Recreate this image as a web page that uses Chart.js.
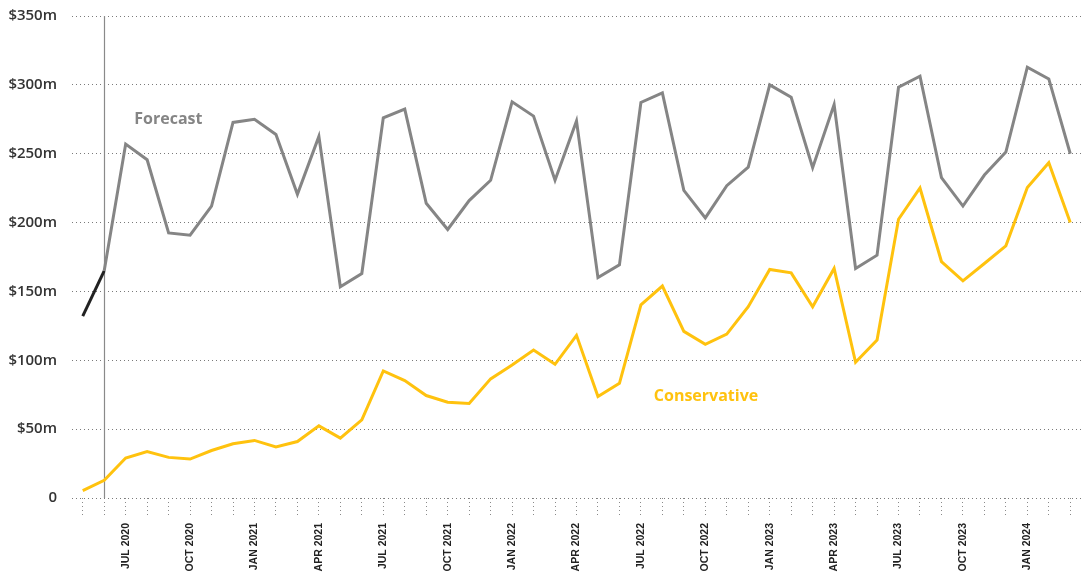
<!DOCTYPE html>
<html>
<head>
<meta charset="utf-8">
<script src="https://cdn.jsdelivr.net/npm/chart.js@4.4.1/dist/chart.umd.min.js"></script>
<style>
  html, body { margin: 0; padding: 0; background: #fff; }
  #wrap { width: 1081px; height: 575px; position: relative; }
</style>
</head>
<body>
<div id="wrap"><canvas id="myChart"></canvas></div>
<script>
var months = [
  'MAY 2020', 'JUN 2020', 'JUL 2020', 'AUG 2020', 'SEP 2020', 'OCT 2020', 'NOV 2020', 'DEC 2020',
  'JAN 2021', 'FEB 2021', 'MAR 2021', 'APR 2021', 'MAY 2021', 'JUN 2021', 'JUL 2021', 'AUG 2021',
  'SEP 2021', 'OCT 2021', 'NOV 2021', 'DEC 2021', 'JAN 2022', 'FEB 2022', 'MAR 2022', 'APR 2022',
  'MAY 2022', 'JUN 2022', 'JUL 2022', 'AUG 2022', 'SEP 2022', 'OCT 2022', 'NOV 2022', 'DEC 2022',
  'JAN 2023', 'FEB 2023', 'MAR 2023', 'APR 2023', 'MAY 2023', 'JUN 2023', 'JUL 2023', 'AUG 2023',
  'SEP 2023', 'OCT 2023', 'NOV 2023', 'DEC 2023', 'JAN 2024', 'FEB 2024', 'MAR 2024'
];
// months that get a printed label
var shownMonths = ['JAN', 'APR', 'JUL', 'OCT'];

var forecast = [
  132, 165, 257, 245.6, 192.5, 190.8, 212, 272.7, 275, 264, 220.5, 262.6,
  153.4, 163, 276, 282.4, 214, 195, 216, 230.7, 287.7, 277.3, 230.7, 273.7,
  160, 169.3, 287.2, 294.2, 223.4, 203.4, 226.8, 240.3, 300, 291, 239.9,
  285.7, 166.7, 176.3, 298.3, 306.3, 232.6, 212, 234.5, 251.2, 312.8, 304.3, 250
];
var conservative = [
  5.3, 12.8, 29, 33.8, 29.5, 28.3, 34.5, 39.4, 41.8, 37, 41, 52.4,
  43.5, 56.8, 92.3, 85.3, 74.4, 69.6, 68.6, 86.5, 96.6, 107.5, 97.1, 118.1,
  73.7, 83.3, 140.3, 153.9, 121, 111.6, 119, 138.9, 166, 163.5, 138.9,
  166.7, 98.6, 114.7, 202.4, 225.1, 171.7, 157.7, 170.3, 183.1, 225.4, 243.5, 200
];
var yTicks = [0, 50, 100, 150, 200, 250, 300, 350];

var actualEnd = 1; // index where actuals stop and forecast starts

var GREY = '#858585';
var YELLOW = '#ffc20e';

// vertical marker at the end of the actuals
var markerLine = {
  id: 'markerLine',
  beforeDatasetsDraw: function(chart) {
    var c = chart.ctx, x = chart.scales.x, y = chart.scales.y;
    var px = Math.round(x.getPixelForValue(actualEnd)) + 0.5;
    c.save();
    c.strokeStyle = '#8a8a8a';
    c.lineWidth = 1.2;
    c.beginPath();
    c.moveTo(px, chart.chartArea.top);
    c.lineTo(px, y.getPixelForValue(0));
    c.stroke();
    c.restore();
  }
};

// series names written next to the lines
var seriesNames = {
  id: 'seriesNames',
  afterDatasetsDraw: function(chart) {
    var c = chart.ctx, x = chart.scales.x, y = chart.scales.y;
    c.save();
    c.font = 'bold 16px "Open Sans", sans-serif';
    c.textBaseline = 'middle';
    c.fillStyle = GREY;
    c.fillText('Forecast', x.getPixelForValue(2.4), y.getPixelForValue(275));
    c.fillStyle = YELLOW;
    c.fillText('Conservative', x.getPixelForValue(26.6), y.getPixelForValue(74));
    c.restore();
  }
};

var ctx = document.getElementById('myChart').getContext('2d');
var myChart = new Chart(ctx, {
  type: 'line',
  data: {
    labels: months,
    datasets: [{
      label: 'Forecast',
      data: forecast,
      borderColor: GREY,
      borderWidth: 3,
      pointRadius: 0,
      tension: 0,
      segment: {
        borderColor: function(s) { return s.p0DataIndex < actualEnd ? '#222222' : GREY; }
      }
    }, {
      label: 'Conservative',
      data: conservative,
      borderColor: YELLOW,
      borderWidth: 3,
      pointRadius: 0,
      tension: 0
    }]
  },
  options: {
    responsive: true,
    maintainAspectRatio: false,
    animation: false,
    layout: { padding: { top: 16, left: 6, right: 0, bottom: 0 } },
    plugins: {
      legend: { display: false },
      tooltip: { enabled: false }
    },
    scales: {
      x: {
        offset: true,
        border: { display: false },
        afterFit: function(s) { s.paddingLeft = 0; s.paddingRight = 0; s.height = 77; },
        grid: {
          offset: false,
          drawOnChartArea: false,
          drawTicks: true,
          tickLength: 20,
          tickColor: '#8a8a8a',
          tickBorderDash: [1, 3]
        },
        ticks: {
          autoSkip: false,
          maxRotation: 90,
          minRotation: 90,
          padding: 5,
          color: '#222',
          font: { family: '"Liberation Sans", Arial, sans-serif', size: 10.5, weight: 'bold' },
          callback: function(v, i) {
            var m = months[i];
            return shownMonths.indexOf(m.slice(0, 3)) >= 0 ? m : '';
          }
        }
      },
      y: {
        min: 0,
        max: 350,
        afterBuildTicks: function(s) { s.ticks = yTicks.map(function(v) { return { value: v }; }); },
        afterFit: function(s) { s.paddingTop = 0; s.paddingBottom = 0; s.width = 66; },
        border: { display: false, dash: [1, 3] },
        grid: { color: '#7a7a7a', drawTicks: false, lineWidth: 1 },
        ticks: {
          padding: 15,
          color: '#333',
          font: { family: '"Open Sans", sans-serif', size: 15, weight: '600' },
          callback: function(v) { return v === 0 ? '0' : '$' + v + 'm'; }
        }
      }
    }
  },
  plugins: [markerLine, seriesNames]
});
</script>
</body>
</html>
